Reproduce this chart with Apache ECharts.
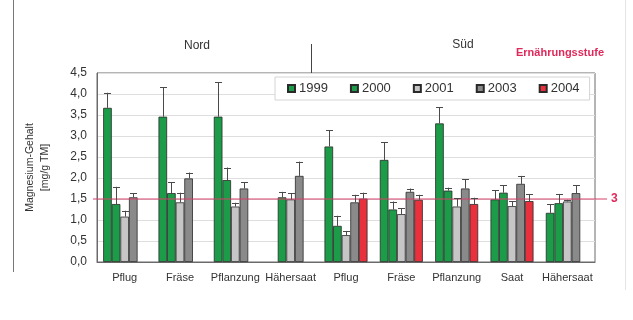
<!DOCTYPE html>
<html>
<head>
<meta charset="utf-8">
<script src="https://cdn.jsdelivr.net/npm/echarts@6/dist/echarts.min.js"></script>
<style>html,body{margin:0;padding:0;background:#fff}#c{width:633px;height:320px}</style>
</head>
<body>
<div id="c"></div>
<script>
const categories = ['Pflug','Fräse','Pflanzung','Hähersaat','Pflug','Fräse','Pflanzung','Saat','Hähersaat'];
const years = ['1999','2000','2001','2003','2004'];
const v1999 = [3.67, 3.46, 3.46, null, 2.75, 2.43, 3.30, 1.49, 1.17];
const v2000 = [1.38, 1.64, 1.95, 1.54, 0.86, 1.25, 1.70, 1.65, 1.40];
const v2001 = [1.08, 1.42, 1.32, 1.49, 0.64, 1.14, 1.32, 1.33, 1.44];
const v2003 = [1.54, 1.99, 1.75, 2.05, 1.42, 1.67, 1.75, 1.86, 1.64];
const v2004 = [null, null, null, null, 1.51, 1.48, 1.38, 1.45, null];
const e1999 = [4.03, 4.16, 4.28, null, 3.14, 2.85, 3.68, 1.71, 1.37];
const e2000 = [1.79, 1.90, 2.25, 1.67, 1.10, 1.44, 1.77, 1.83, 1.62];
const e2001 = [1.22, 1.65, 1.41, 1.64, 0.74, 1.28, 1.52, 1.45, 1.48];
const e2003 = [1.64, 2.13, 1.90, 2.39, 1.60, 1.75, 1.97, 2.05, 1.83];
const e2004 = [null, null, null, null, 1.65, 1.60, 1.53, 1.62, null];
const yTicks = { min: 0, max: 4.5, interval: 0.5 };
const refValue = 1.5;
const refLabel = '3';
const regionLabels = ['Nord', 'Süd'];
const refTitle = 'Ernährungsstufe';
const yName = 'Magnesium-Gehalt\n[mg/g TM]';

const values = [v1999, v2000, v2001, v2003, v2004];
const errors = [e1999, e2000, e2001, e2003, e2004];
const colors = ['#1c9c48', '#1c9c48', '#c6c6c6', '#8a8a8a', '#e8313c'];
const BW = 8.6;
const FONT = '"Liberation Sans", Arial, sans-serif';

const chart = echarts.init(document.getElementById('c'), null, { renderer: 'canvas' });

const series = [];
years.forEach((y, i) => {
  series.push({
    name: y, type: 'bar', data: values[i], barWidth: BW, barGap: '0%',
    itemStyle: { color: colors[i], borderColor: '#2a2a2a', borderWidth: 0.8 },
    z: 2, animation: false
  });
});
years.forEach((y, i) => {
  const d = [];
  values[i].forEach((v, k) => { if (v != null && errors[i][k] != null) d.push([k, v, errors[i][k]]); });
  series.push({
    type: 'custom', data: d, z: 5, animation: false, silent: true,
    encode: { x: 0, y: [1, 2] },
    renderItem: function (params, api) {
      const off = (i - 2) * BW;
      const p0 = api.coord([api.value(0), api.value(1)]);
      const p1 = api.coord([api.value(0), api.value(2)]);
      const x = Math.round(p0[0] + off) + 0.5;
      const style = { stroke: '#4a4a4a', lineWidth: 1, fill: null };
      return {
        type: 'group',
        children: [
          { type: 'line', shape: { x1: x, y1: p0[1], x2: x, y2: p1[1] }, style: style },
          { type: 'line', shape: { x1: x - 3.5, y1: Math.round(p1[1]) + 0.5, x2: x + 3.5, y2: Math.round(p1[1]) + 0.5 }, style: style }
        ]
      };
    }
  });
});

chart.setOption({
  animation: false,
  backgroundColor: '#fff',
  textStyle: { fontFamily: FONT },
  grid: { left: 97, right: 38, top: 73, bottom: 58, show: true, borderColor: '#6a6a6a', borderWidth: 1, backgroundColor: 'transparent' },
  legend: {
    data: years, left: 275, top: 77, itemWidth: 7, itemHeight: 7, itemGap: 22,
    padding: [5, 10, 5, 12], backgroundColor: '#fff', borderColor: '#d4d4d4', borderWidth: 1,
    icon: 'rect', textStyle: { fontSize: 13, color: '#333', fontFamily: FONT, padding: [0, 0, 0, -1] }
  },
  xAxis: {
    type: 'category', data: categories,
    axisLine: { show: true, lineStyle: { color: '#6a6a6a' } },
    axisTick: { show: false },
    axisLabel: { fontSize: 11, color: '#333', margin: 10, interval: 0, fontFamily: FONT }
  },
  yAxis: {
    type: 'value', min: yTicks.min, max: yTicks.max, interval: yTicks.interval,
    name: yName, nameLocation: 'middle', nameGap: 44, nameRotate: 90,
    nameTextStyle: { fontSize: 10.5, color: '#333', lineHeight: 15, fontFamily: FONT },
    axisLine: { show: true, lineStyle: { color: '#6a6a6a' } },
    axisTick: { show: false },
    axisLabel: { fontSize: 12, color: '#333', margin: 10, fontFamily: FONT, formatter: v => v.toFixed(1).replace('.', ',') },
    splitLine: { show: true, lineStyle: { color: '#dedede' } }
  },
  series: series
});

const yRef = chart.convertToPixel({ yAxisIndex: 0 }, refValue);
const yTop = chart.convertToPixel({ yAxisIndex: 0 }, yTicks.max);
chart.setOption({
  graphic: [
    { type: 'line', shape: { x1: 93, y1: yRef, x2: 607, y2: yRef }, style: { stroke: '#d8406a', lineWidth: 1 }, z: 4 },
    { type: 'text', x: 611, y: yRef, style: { text: refLabel, fill: '#e0285a', font: 'bold 12px ' + FONT, textVerticalAlign: 'middle' }, z: 4 },
    { type: 'text', x: 197, y: 46, style: { text: regionLabels[0], fill: '#333', font: '12px ' + FONT, textAlign: 'center', textVerticalAlign: 'middle' } },
    { type: 'text', x: 463, y: 45, style: { text: regionLabels[1], fill: '#333', font: '12px ' + FONT, textAlign: 'center', textVerticalAlign: 'middle' } },
    { type: 'text', x: 560, y: 53, style: { text: refTitle, fill: '#e0285a', font: 'bold 11px ' + FONT, textAlign: 'center', textVerticalAlign: 'middle' } },
    { type: 'line', shape: { x1: 311.5, y1: 44, x2: 311.5, y2: yTop }, style: { stroke: '#444', lineWidth: 1 } },
    { type: 'line', shape: { x1: 13.5, y1: 0, x2: 13.5, y2: 272 }, style: { stroke: '#777', lineWidth: 1 } },
    { type: 'line', shape: { x1: 625.5, y1: 0, x2: 625.5, y2: 290 }, style: { stroke: '#e4e4e4', lineWidth: 1 } }
  ]
});
</script>
</body>
</html>
